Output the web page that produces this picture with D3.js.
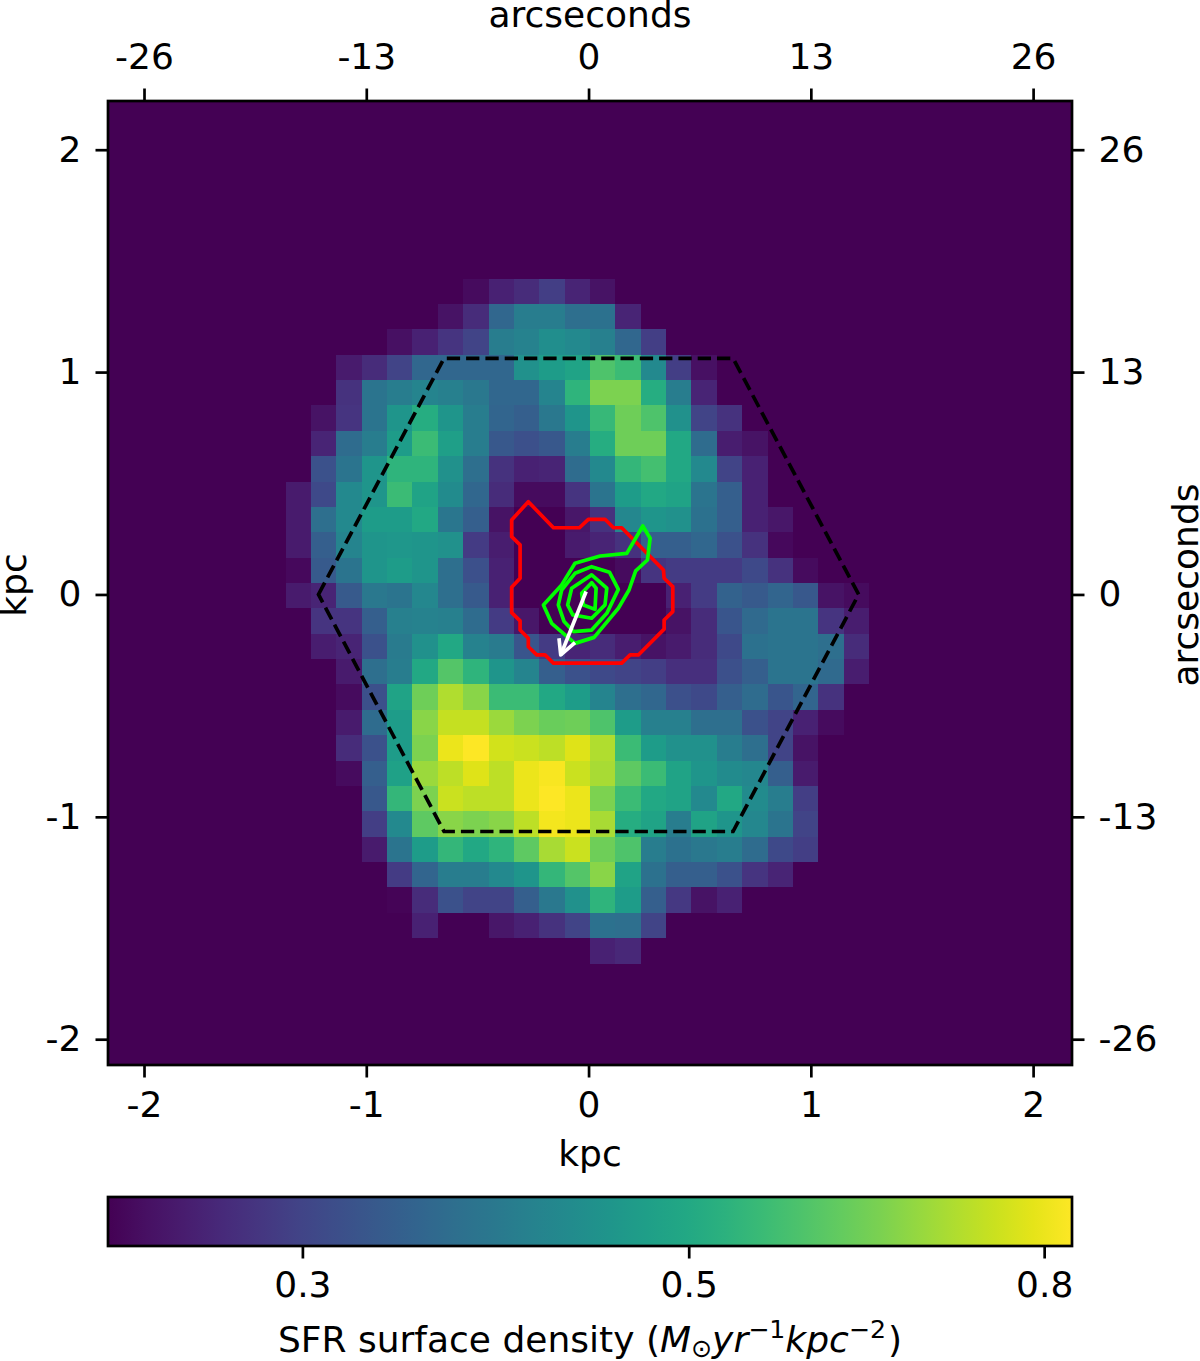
<!DOCTYPE html>
<html><head><meta charset="utf-8">
<script src="https://cdn.jsdelivr.net/npm/d3@7/dist/d3.min.js"></script>
<style>
html,body{margin:0;padding:0;background:#fff}
svg{display:block}
text{font-family:"DejaVu Sans",sans-serif;fill:#000}
</style></head><body>
<svg id="chart" width="1200" height="1361"></svg>
<script>
const gridSize = 38;
const sfrFloor = 0.232;
const sfrCeil = 0.83;
const xKpcDomain = [-2.162, 2.175];
const yKpcDomain = [-2.116, 2.219];
const kpcTicks = [-2, -1, 0, 1, 2];
const arcsecTicks = [-26, -13, 0, 13, 26];
const cbarTicks = [0.3, 0.5, 0.8];

const firstRow = 7;
const rowStart = [14,13,11,9,9,8,8,8,7,7,7,7,7,8,8,9,9,9,9,9,10,10,10,11,11,12,19];
const rowValues = [
[.241,.261,.271,.293,.264,.247],
[.247,.271,.354,.397,.397,.368,.373,.264],
[.244,.261,.281,.300,.397,.407,.434,.423,.402,.354,.293],
[.254,.271,.300,.354,.354,.354,.354,.439,.468,.486,.582,.553,.423,.293,.244],
[.278,.378,.397,.412,.402,.387,.354,.354,.412,.532,.644,.644,.512,.397,.264],
[.247,.281,.378,.451,.512,.451,.397,.349,.340,.387,.451,.546,.628,.582,.439,.300,.278],
[.264,.363,.397,.468,.553,.474,.397,.328,.316,.328,.397,.512,.628,.628,.499,.363,.257,.247],
[.319,.378,.451,.532,.532,.439,.368,.278,.261,.264,.363,.423,.539,.567,.499,.423,.300,.261],
[.254,.308,.423,.451,.553,.486,.428,.354,.271,.241,.241,.281,.378,.468,.499,.486,.378,.340,.261],
[.254,.368,.423,.468,.468,.499,.382,.340,.247,.232,.232,.250,.278,.418,.451,.439,.373,.340,.261,.250],
[.254,.340,.412,.451,.456,.451,.439,.289,.257,.232,.232,.254,.264,.278,.340,.340,.354,.319,.278,.238],
[.238,.332,.378,.451,.468,.451,.368,.316,.261,.232,.232,.232,.232,.241,.281,.289,.289,.289,.308,.278,.241],
[.254,.264,.332,.387,.378,.418,.368,.332,.261,.232,.232,.232,.232,.232,.232,.261,.289,.345,.332,.349,.328,.247,.241],
[.281,.281,.340,.402,.407,.402,.363,.289,.250,.232,.232,.232,.232,.232,.247,.271,.324,.358,.378,.378,.281,.257],
[.257,.264,.319,.392,.439,.499,.407,.392,.324,.289,.264,.271,.257,.247,.254,.271,.308,.373,.378,.378,.368,.271],
[.254,.368,.397,.499,.590,.532,.451,.412,.340,.319,.308,.300,.293,.275,.275,.316,.340,.378,.378,.358,.257],
[.241,.316,.486,.628,.713,.661,.553,.553,.499,.468,.412,.368,.354,.316,.308,.340,.363,.324,.349,.278],
[.254,.363,.468,.661,.741,.741,.686,.644,.620,.628,.582,.468,.402,.402,.368,.368,.319,.300,.261,.241],
[.271,.319,.468,.644,.799,.830,.760,.750,.731,.779,.713,.553,.468,.439,.439,.397,.368,.300,.247],
[.241,.340,.480,.686,.731,.779,.731,.799,.820,.750,.704,.604,.553,.486,.451,.428,.418,.340,.254],
[.328,.539,.644,.750,.731,.731,.799,.830,.799,.644,.553,.499,.486,.423,.499,.428,.397,.293],
[.293,.423,.604,.661,.644,.661,.731,.810,.799,.704,.512,.486,.397,.486,.451,.418,.378,.300],
[.254,.378,.468,.539,.499,.532,.604,.704,.750,.628,.582,.397,.373,.387,.397,.363,.308,.293],
[.289,.349,.397,.397,.423,.451,.539,.590,.661,.486,.373,.340,.340,.319,.281,.264],
[.235,.271,.319,.300,.300,.340,.387,.439,.532,.468,.340,.285,.247,.261],
[.261,.232,.232,.250,.261,.278,.300,.373,.368,.300],
[.261,.268]
];

const hexagon = [[-1.215,0],[-0.65,1.062],[0.65,1.062],[1.215,0],[0.65,-1.066],[-0.65,-1.066]];
const redContour = [[-.271,.417],[-.158,.300],[-.041,.300],[-.001,.338],[.074,.338],[.112,.300],[.149,.300],[.337,.110],[.340,.073],[.379,.035],[.379,-.077],[.340,-.115],[.340,-.156],[.224,-.272],[.187,-.272],[.149,-.309],[-.158,-.309],[-.196,-.272],[-.233,-.272],[-.271,-.235],[-.271,-.197],[-.308,-.160],[-.308,-.119],[-.346,-.082],[-.346,.032],[-.308,.073],[-.308,.223],[-.346,.260],[-.346,.335]];
const greenContour1 = [[.244,.308],[.277,.253],[.265,.155],[.212,.106],[.182,.020],[.134,-.062],[.025,-.193],[-.061,-.220],[-.166,-.130],[-.203,-.047],[-.121,.043],[-.061,.140],[.052,.173],[.172,.185]];
const greenContour2 = [[.014,.125],[.094,.100],[.134,.023],[.082,-.085],[.014,-.160],[-.068,-.167],[-.110,-.122],[-.136,-.047],[-.121,.020],[-.061,.095]];
const greenContour3 = [[.014,.088],[.082,.028],[.074,-.047],[.014,-.107],[-.071,-.092],[-.094,-.047],[-.076,.028]];
const greenContour4 = [[.014,.053],[.034,.028],[.029,-.067],[-.023,-.047],[-.031,.005]];
const arrowShaft = [[-.011,.013],[-.125,-.272]];
const arrowHead = [[-.133,-.197],[-.125,-.272],[-.061,-.217]];

const L=108,R=1072,T=101,B=1065, CT=1197, CB=1246;
const FS=36, TICK=12.5, LW=2.7, OVERLAY=3.7;
const svg=d3.select("#chart");

const color=d3.scaleSequentialLog(d3.interpolateViridis).domain([sfrFloor,sfrCeil]);
const colBand=d3.scaleBand().domain(d3.range(gridSize)).range([L,R]);
const rowBand=d3.scaleBand().domain(d3.range(gridSize)).range([T,B]);
const x=d3.scaleLinear().domain(xKpcDomain).range([L,R]);
const y=d3.scaleLinear().domain(yKpcDomain).range([B,T]);
const kpcPerArcsec=1/13;
const xA=d3.scaleLinear().domain(xKpcDomain.map(d=>d/kpcPerArcsec)).range([L,R]);
const yA=d3.scaleLinear().domain(yKpcDomain.map(d=>d/kpcPerArcsec)).range([B,T]);

// image cells
const cells=[];
d3.range(gridSize).forEach(r=>d3.range(gridSize).forEach(c=>{
  const i=r-firstRow;
  let v=sfrFloor;
  if(i>=0&&i<rowValues.length){
    const j=c-rowStart[i];
    if(j>=0&&j<rowValues[i].length)v=rowValues[i][j];
  }
  cells.push({r,c,v});
}));
svg.append("g").attr("shape-rendering","crispEdges").selectAll("rect").data(cells).join("rect")
  .attr("x",d=>colBand(d.c)).attr("y",d=>rowBand(d.r))
  .attr("width",colBand.bandwidth()+0.5).attr("height",rowBand.bandwidth()+0.5)
  .attr("fill",d=>color(d.v));

// overlays
svg.append("clipPath").attr("id","plotclip").append("rect").attr("x",L).attr("y",T).attr("width",R-L).attr("height",B-T);
const line=d3.line().x(d=>x(d[0])).y(d=>y(d[1]));
const closed=p=>line(p)+"Z";
const ov=svg.append("g").attr("clip-path","url(#plotclip)").attr("fill","none").attr("stroke-linejoin","round");
ov.append("path").attr("d",closed(hexagon)).attr("stroke","#000").attr("stroke-width",OVERLAY).attr("stroke-dasharray","13.3 6").attr("stroke-linejoin","miter");
ov.append("path").attr("d",closed(redContour)).attr("stroke","#ff0000").attr("stroke-width",OVERLAY);
[greenContour1,greenContour2,greenContour3,greenContour4].forEach(p=>
  ov.append("path").attr("d",closed(p)).attr("stroke","#00ff00").attr("stroke-width",OVERLAY));
ov.append("path").attr("d",line(arrowShaft)).attr("stroke","#fff").attr("stroke-width",OVERLAY);
ov.append("path").attr("d",line(arrowHead)).attr("stroke","#fff").attr("stroke-width",OVERLAY);

// axes
function styleAxis(g){
  g.select(".domain").remove();
  g.selectAll(".tick line").attr("stroke","#000").attr("stroke-width",LW);
  g.selectAll(".tick text").attr("font-size",FS).attr("font-family","DejaVu Sans").attr("fill","#000");
}
const fmt=d=>String(d);
svg.append("g").attr("transform",`translate(0,${B})`).call(d3.axisBottom(x).tickValues(kpcTicks).tickFormat(fmt).tickSize(TICK).tickPadding(14)).call(styleAxis);
svg.append("g").attr("transform",`translate(${L},0)`).call(d3.axisLeft(y).tickValues(kpcTicks).tickFormat(fmt).tickSize(TICK).tickPadding(14)).call(styleAxis);
svg.append("g").attr("transform",`translate(0,${T})`).call(d3.axisTop(xA).tickValues(arcsecTicks).tickFormat(fmt).tickSize(TICK).tickPadding(20)).call(styleAxis);
svg.append("g").attr("transform",`translate(${R},0)`).call(d3.axisRight(yA).tickValues(arcsecTicks).tickFormat(fmt).tickSize(TICK).tickPadding(14)).call(styleAxis);
svg.append("rect").attr("x",L).attr("y",T).attr("width",R-L).attr("height",B-T).attr("fill","none").attr("stroke","#000").attr("stroke-width",LW);

const label=(t,px,py,rot)=>svg.append("text").attr("font-size",FS).attr("text-anchor","middle")
  .attr("transform",`translate(${px},${py})`+(rot?` rotate(${rot})`:"")).text(t);
label("arcseconds",590,27);
label("kpc",590,1166);
label("kpc",26,585,-90);
label("arcseconds",1198,585,-90);

// colourbar
const grad=svg.append("defs").append("linearGradient").attr("id","viridisbar");
d3.range(0,1.0001,0.04).forEach(t=>grad.append("stop").attr("offset",t).attr("stop-color",d3.interpolateViridis(t)));
svg.append("rect").attr("x",L).attr("y",CT).attr("width",R-L).attr("height",CB-CT).attr("fill","url(#viridisbar)");
const cx=d3.scaleLog().domain([sfrFloor,sfrCeil]).range([L,R]);
svg.append("g").attr("transform",`translate(0,${CB})`).call(d3.axisBottom(cx).tickValues(cbarTicks).tickFormat(d3.format(".1f")).tickSize(TICK).tickPadding(13)).call(styleAxis);
svg.append("rect").attr("x",L).attr("y",CT).attr("width",R-L).attr("height",CB-CT).attr("fill","none").attr("stroke","#000").attr("stroke-width",LW);

const cl=svg.append("text").attr("font-size",FS).attr("text-anchor","middle").attr("x",590).attr("y",1352);
cl.append("tspan").text("SFR surface density (");
cl.append("tspan").attr("font-style","italic").text("M");
cl.append("tspan").attr("font-size",FS*0.7).attr("dy",5).text("\u2299");
cl.append("tspan").attr("font-style","italic").attr("dy",-5).text("yr");
cl.append("tspan").attr("font-size",FS*0.7).attr("dy",-14).text("\u22121");
cl.append("tspan").attr("font-style","italic").attr("dy",14).text("kpc");
cl.append("tspan").attr("font-size",FS*0.7).attr("dy",-14).text("\u22122");
cl.append("tspan").attr("dy",14).attr("dx",2).text(")");
</script>
</body></html>
